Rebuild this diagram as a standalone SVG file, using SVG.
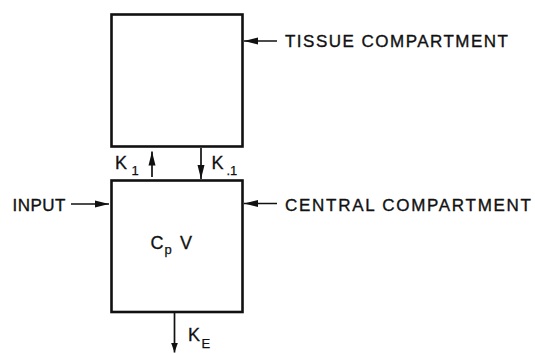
<svg xmlns="http://www.w3.org/2000/svg" width="535" height="353" viewBox="0 0 535 353">
<style>
  .box { fill: #fff; stroke: #111; stroke-width: 2.6; }
  .conn { stroke: #111; stroke-width: 1.7; fill: none; }
  .lbl { font-family: "Liberation Sans", Arial, sans-serif; font-size: 17px; fill: #111; stroke: #111; stroke-width: 0.35; }
  .k { font-family: "Liberation Sans", Arial, sans-serif; font-size: 18px; fill: #111; stroke: #111; stroke-width: 0.3; }
  .sub { font-family: "Liberation Sans", Arial, sans-serif; font-size: 13px; fill: #111; stroke: #111; stroke-width: 0.25; }
</style>
<defs>
  <marker id="ah" viewBox="0 0 14 8" refX="14" refY="4" markerWidth="14" markerHeight="8" markerUnits="userSpaceOnUse" orient="auto">
    <path d="M0,0.5 L14,4 L0,7.5 Z" fill="#111"/>
  </marker>
  <marker id="ahs" viewBox="0 0 10 7" refX="10" refY="3.5" markerWidth="10" markerHeight="7" markerUnits="userSpaceOnUse" orient="auto">
    <path d="M0,0 L10,3.5 L0,7 Z" fill="#111"/>
  </marker>
</defs>
<rect width="535" height="353" fill="#fff"/>
<g id="tissue">
  <rect class="box" x="111.5" y="14.5" width="131" height="132"/>
</g>
<g id="central">
  <rect class="box" x="111.5" y="180.5" width="131" height="131.5"/>
  <text class="k" x="150.5" y="248.5">C</text>
  <text class="sub" x="164.5" y="254">p</text>
  <text class="k" x="180" y="248.5">V</text>
</g>
<g id="connectors">
  <line class="conn" x1="277" y1="41" x2="244" y2="41" marker-end="url(#ah)"/>
  <line class="conn" x1="277" y1="203.5" x2="244" y2="203.5" marker-end="url(#ah)"/>
  <line class="conn" x1="71" y1="204" x2="109" y2="204" marker-end="url(#ah)"/>
  <line class="conn" x1="152" y1="177" x2="152" y2="151.5" marker-end="url(#ah)"/>
  <line class="conn" x1="201" y1="148" x2="201" y2="179" marker-end="url(#ah)"/>
  <line class="conn" x1="174.5" y1="313" x2="174.5" y2="352.5" marker-end="url(#ahs)"/>
</g>
<g id="labels">
  <text class="lbl" x="285" y="47" textLength="223" lengthAdjust="spacing">TISSUE COMPARTMENT</text>
  <text class="lbl" x="285" y="211" textLength="246" lengthAdjust="spacing">CENTRAL COMPARTMENT</text>
  <text class="lbl" x="12.5" y="211" textLength="53" lengthAdjust="spacing">INPUT</text>
  <text class="k" x="115" y="169">K</text>
  <text class="sub" x="131.5" y="174.5">1</text>
  <text class="k" x="211.5" y="169">K</text>
  <text class="sub" x="226.5" y="174.5">.1</text>
  <text class="k" x="188" y="340.5">K</text>
  <text class="sub" x="201.5" y="348">E</text>
</g>
</svg>
